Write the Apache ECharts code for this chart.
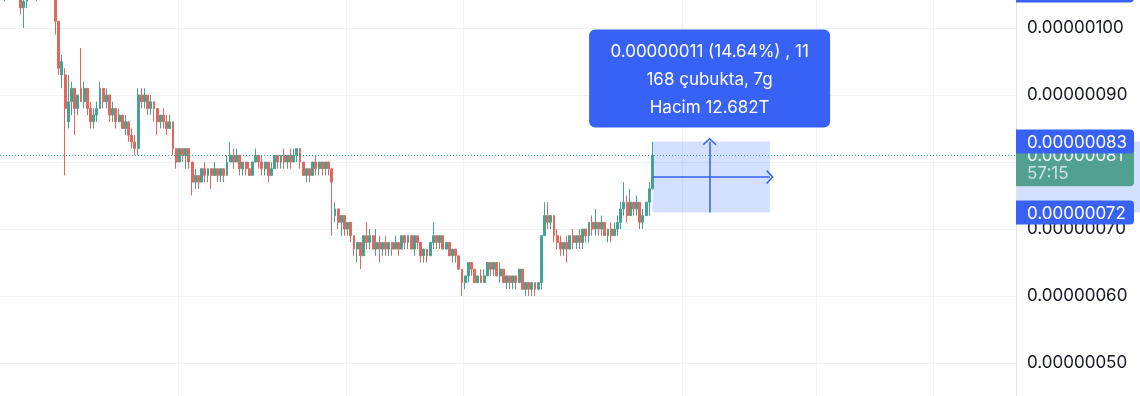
<!DOCTYPE html>
<html><head><meta charset="utf-8">
<script src="https://cdn.jsdelivr.net/npm/echarts@6/dist/echarts.min.js"></script>
<style>html,body{margin:0;padding:0;background:#fff;}#c{width:1140px;height:396px;}</style>
</head><body><div id="c"></div>
<script>
// Prices are in units of 0.00000001
// candles: [open, high, low, close]
const candles = [
[108,110,105,106],[106,108,104,107],[107,110,106,109],[109,111,107,108],[108,109,106,107],
[107,108,105,105],[105,106,102,103],[103,105,100,104],[104,106,103,105],[105,108,105,107],
[107,108,105,106],[106,107,104,105],[105,108,105,107],[107,110,106,109],[109,110,107,108],
[108,109,106,107],[107,108,105,106],[106,107,99,101],[101,101,93,94],[93,96,91,95],
[93,94,78,88],[86,93,85,89],[89,92,87,91],[91,91,84,88],[88,90,87,90],
[91,97,89,89],[89,92,88,91],[91,91,87,88],[88,89,85,86],[86,88,85,87],
[87,89,86,88],[88,92,88,91],[91,91,88,89],[89,91,88,90],[90,90,86,87],
[87,89,86,88],[88,88,85,86],[86,88,86,87],[87,87,85,85],[85,87,84,86],
[86,86,83,84],[84,85,82,83],[83,84,81,82],[82,91,81,90],[90,91,88,89],
[89,91,88,90],[90,90,87,88],[88,90,87,89],[89,89,86,88],[88,88,84,86],
[86,87,85,87],[87,88,85,86],[86,87,84,85],[85,87,85,86],[86,86,81,82],
[82,82,79,80],[80,82,80,82],[82,82,80,81],[81,82,79,82],[82,82,79,80],
[80,80,75,77],[77,79,76,78],[78,78,76,77],[77,79,77,79],[79,80,77,78],
[78,79,77,79],[79,79,76,78],[78,80,78,79],[79,79,77,78],[78,79,77,79],
[79,79,77,78],[78,81,78,80],[80,83,80,81],[81,82,79,80],[80,82,80,81],
[81,81,78,79],[79,80,78,80],[80,80,78,79],[79,80,78,78],[78,80,78,80],
[80,82,80,81],[81,81,79,80],[80,81,78,79],[79,80,78,80],[80,80,77,78],
[78,80,78,79],[79,81,79,81],[81,81,79,80],[80,81,79,81],[81,82,79,80],
[80,81,79,81],[81,82,79,80],[80,82,80,81],[81,82,80,82],[82,82,79,80],
[80,80,78,78],[78,79,77,79],[79,79,77,78],[78,80,78,80],[80,81,78,79],
[79,80,78,80],[80,80,78,79],[79,80,78,80],[80,80,78,79],[79,79,69,77],
[72,74,71,73],[73,73,70,71],[71,72,69,72],[72,72,69,70],[70,71,69,71],
[71,71,68,69],[69,69,66,67],[67,68,65,68],[68,68,64,66],[66,69,66,69],
[69,71,67,68],[68,70,67,69],[69,69,67,67],[67,70,66,68],[68,69,65,67],
[67,68,66,68],[68,69,66,67],[67,68,66,68],[68,68,66,67],[67,69,67,68],
[68,68,66,67],[67,69,67,69],[69,69,67,68],[68,69,67,69],[69,69,67,67],
[67,69,66,69],[69,69,67,68],[68,68,65,66],[66,67,65,67],[67,67,65,66],
[66,68,66,68],[68,71,67,69],[69,69,67,68],[68,69,67,69],[69,69,67,67],
[67,68,67,68],[68,68,66,66],[66,67,65,67],[67,67,65,66],[66,66,64,64],
[64,64,60,62],[62,63,61,63],[63,65,62,65],[65,65,63,64],[64,64,62,62],
[62,63,62,63],[63,64,62,62],[62,64,62,63],[63,65,63,65],[65,65,63,64],
[64,65,63,65],[65,65,63,63],[63,65,62,64],[64,64,62,62],[62,63,61,63],
[63,63,61,62],[62,63,61,63],[63,63,61,62],[62,64,62,64],[64,64,61,61],
[61,62,60,62],[62,62,60,61],[61,62,60,62],[62,62,60,61],[61,62,61,62],
[62,69,61,69],[69,74,69,72],[72,74,70,71],[71,72,70,72],[72,72,68,69],
[69,70,67,68],[68,69,66,67],[67,68,66,68],[68,69,65,67],[67,69,67,69],
[69,70,67,68],[68,69,67,69],[69,70,67,68],[68,70,67,70],[70,70,68,69],
[69,71,68,71],[71,72,69,70],[70,73,69,71],[71,71,69,70],[70,72,69,71],
[71,71,69,69],[69,70,68,70],[70,71,68,69],[69,71,69,70],[70,72,69,71],
[71,74,70,73],[73,77,72,74],[74,75,71,72],[72,76,72,74],[74,74,72,73],
[73,75,72,74],[74,74,70,71],[71,73,70,72],[72,74,72,74],[74,77,72,76],
[76,83,76,81]
];
const barSlots = 320;                 // number of bar slots across the plot (incl. empty future space)
const timeGridBars = [56, 109, 146, 215, 257, 294]; // bars where vertical time gridlines fall
const yMin = 40, yMax = 110, yStep = 10;
const lastPrice = 81;
const countdown = '57:15';
const measureStartBar = 205, measureEndBar = 242, measureMidBar = 223;
const measureHigh = 83.06, measureLow = 72.46;
const measureLines = ['0.00000011 (14.64%) , 11', '168 çubukta, 7g', 'Hacim 12.682T'];
const offscreenLabelPrice = 105.6;

const UP = '#45a394', DOWN = '#e4675f', BLUE = '#3862f5', GREEN = '#52a08f';
const FONT = 'Inter';
const FS = 17;
const fmt = v => (v / 1e8).toFixed(8);
const slots = Array.from({length: barSlots}, (_, i) => String(i));
const CHEVRON = 'path://M0,10 L10,0 L20,10 L18.4,11.6 L10,3.2 L1.6,11.6 Z';

const chart = echarts.init(document.getElementById('c'), null, {renderer: 'canvas'});
chart.setOption({
  animation: false,
  backgroundColor: '#ffffff',
  grid: {left: 0, right: 124, top: -39, bottom: -34, containLabel: false, outerBoundsMode: 'none'},
  xAxis: {
    type: 'category', data: slots, boundaryGap: true,
    axisLine: {show: false}, axisTick: {show: false}, axisLabel: {show: false},
    splitLine: {show: true, interval: (i) => timeGridBars.includes(i), lineStyle: {color: '#f0f2f5', width: 1}}
  },
  yAxis: {
    type: 'value', position: 'right', min: yMin, max: yMax, interval: yStep,
    axisLine: {show: true, lineStyle: {color: '#e0e3eb', width: 1}},
    axisTick: {show: false},
    axisLabel: {color: '#131722', fontSize: FS, fontFamily: FONT, margin: 11, formatter: fmt},
    splitLine: {show: true, lineStyle: {color: '#f0f2f5', width: 1}}
  },
  series: [{
    type: 'candlestick',
    data: candles.map(([o, h, l, c]) => [o, c, l, h]),
    barWidth: 2.4,
    itemStyle: {color: UP, color0: DOWN, borderColor: UP, borderColor0: DOWN, borderWidth: 1},
    markArea: {
      silent: true,
      itemStyle: {color: 'rgba(41,98,255,0.2)'},
      data: [[{xAxis: measureStartBar, yAxis: measureHigh}, {xAxis: measureEndBar, yAxis: measureLow}]]
    },
    markLine: {
      silent: true, symbol: ['none', 'none'], label: {show: false},
      data: [
        {yAxis: lastPrice, lineStyle: {color: '#2f9c8c', type: [1, 2], width: 1}},
        [{coord: [measureMidBar, measureLow], symbol: 'none', lineStyle: {color: '#3461f0', width: 1.5, type: 'solid'}},
         {coord: [measureMidBar, measureHigh], symbol: CHEVRON, symbolSize: [14, 7.5]}],
        [{coord: [measureStartBar, (measureHigh + measureLow) / 2], symbol: 'none', lineStyle: {color: '#3461f0', width: 1.5, type: 'solid'}},
         {coord: [measureEndBar, (measureHigh + measureLow) / 2], symbol: CHEVRON, symbolSize: [14, 7.5]}]
      ]
    }
  }]
});

const W = chart.getWidth();
const axisX = W - 124;
const py = v => chart.convertToPixel({yAxisIndex: 0}, v);
const px = i => chart.convertToPixel({xAxisIndex: 0}, i);
const labelW = 118;
function priceTag(price, color, z) {
  const cy = py(price);
  return {
    type: 'group', z: z,
    children: [
      {type: 'rect', z: z, shape: {x: axisX, y: cy - 12, width: labelW, height: 24, r: [0, 4, 4, 0]}, style: {fill: color}},
      {type: 'text', z: z + 1, style: {x: axisX + 11, y: cy + 1, text: fmt(price), fill: '#ffffff', font: FS + 'px ' + FONT, verticalAlign: 'middle', align: 'left'}}
    ]
  };
}
const lastY = py(lastPrice);
const hiY = py(measureHigh), loY = py(measureLow);
const boxW = 241, boxH = 98;
const boxCx = px(measureMidBar);
const boxBottom = hiY - 14;
chart.setOption({
  graphic: [
    {type: 'rect', z: 100, shape: {x: axisX + 1, y: hiY, width: W - axisX, height: loY - hiY}, style: {fill: 'rgba(41,98,255,0.2)'}},
    {type: 'group', z: 101, children: [
      {type: 'rect', z: 101, shape: {x: axisX, y: lastY - 12, width: labelW, height: 43, r: [0, 4, 4, 0]}, style: {fill: GREEN}},
      {type: 'text', z: 102, style: {x: axisX + 11, y: lastY + 1, text: fmt(lastPrice), fill: '#f4faf8', font: FS + 'px ' + FONT, verticalAlign: 'middle'}},
      {type: 'text', z: 102, style: {x: axisX + 11, y: lastY + 19, text: countdown, fill: 'rgba(255,255,255,0.72)', font: FS + 'px ' + FONT, verticalAlign: 'middle'}}
    ]},
    priceTag(measureHigh, BLUE, 110),
    priceTag(measureLow, BLUE, 110),
    priceTag(offscreenLabelPrice, BLUE, 110),
    {type: 'group', z: 120, children: [
      {type: 'rect', z: 120, shape: {x: boxCx - boxW / 2, y: boxBottom - boxH, width: boxW, height: boxH, r: 6}, style: {fill: BLUE}},
      {type: 'text', z: 121, style: {x: boxCx, y: boxBottom - boxH / 2 + 1, text: measureLines.join('\n'), fill: '#ffffff', font: FS + 'px ' + FONT, lineHeight: 28, align: 'center', verticalAlign: 'middle'}}
    ]}
  ]
});
</script></body></html>
